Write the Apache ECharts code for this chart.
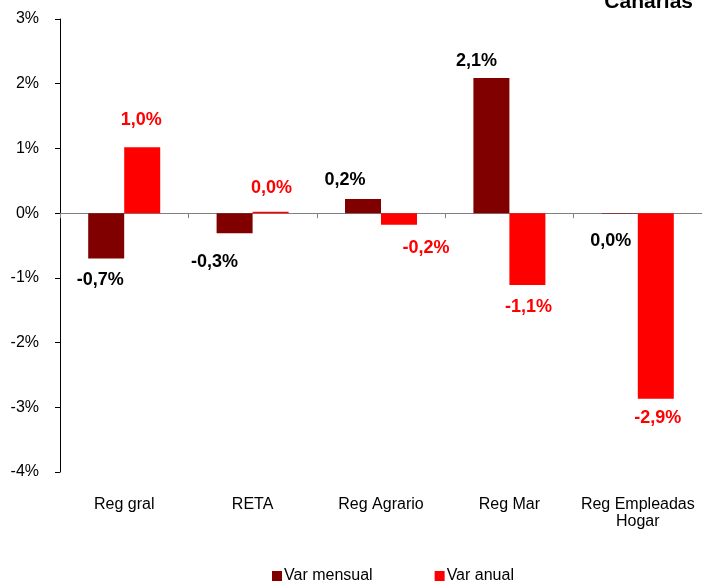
<!DOCTYPE html>
<html>
<head>
<meta charset="utf-8">
<script src="https://cdn.jsdelivr.net/npm/echarts@6/dist/echarts.min.js"></script>
<style>
  html, body { margin: 0; padding: 0; background: #fff; }
  #chart { width: 702px; height: 585px; }
</style>
</head>
<body>
<div id="chart"></div>
<script>
// categories and values
const categories = ['Reg gral', 'RETA', 'Reg Agrario', 'Reg Mar', 'Reg Empleadas\nHogar'];
const varMensual = [-0.7, -0.31, 0.22, 2.09, -0.01];
const varAnual = [1.02, 0.02, -0.18, -1.11, -2.87];
const yTicks = [-4, -3, -2, -1, 0, 1, 2, 3];

// label nudges (Excel places some labels off-centre)
const mensualLabelShift = [[-6, 0], [-20, 7], [-18, 3], [-15, 5], [-9, 5]];
const anualLabelShift = [[-1, -5], [1, -2], [27, 1], [1, 0], [2, -3]];

const font = '"Liberation Sans", Arial, sans-serif';

// format like 1,0% and avoid "-0,0%"
const fmt = (v) => {
  let s = v.toFixed(1);
  if (s === '-0.0') s = '0.0';
  return s.replace('.', ',') + '%';
};

const chart = echarts.init(document.getElementById('chart'));

const makeSeries = (name, values, shifts, color, textColor) => ({
  name: name,
  type: 'bar',
  barWidth: 36,
  barGap: '0%',
  itemStyle: { color: color },
  data: values.map((v, i) => ({
    value: v,
    label: { position: v < 0 ? 'bottom' : 'top', offset: shifts[i] }
  })),
  label: {
    show: true,
    distance: 13,
    color: textColor,
    fontFamily: font,
    fontWeight: 'bold',
    fontSize: 18,
    formatter: (p) => fmt(p.value)
  }
});

chart.setOption({
  animation: false,
  title: {
    text: 'Canarias',
    right: 4,
    top: -13,
    textStyle: { fontFamily: font, fontWeight: 'bold', fontSize: 21, color: '#000' }
  },
  legend: {
    bottom: -4,
    left: 267,
    itemGap: 62,
    itemWidth: 10,
    itemHeight: 10,
    icon: 'rect',
    textStyle: { fontFamily: font, fontSize: 16, color: '#000', padding: [0, 0, 0, -3] },
    data: ['Var mensual', 'Var anual']
  },
  grid: { left: 60, top: 19, width: 645, bottom: 113 },
  xAxis: [
    {
      type: 'category',
      data: categories,
      position: 'bottom',
      axisLine: { show: false, onZero: false },
      axisTick: { show: false },
      axisLabel: { interval: 0, fontFamily: font, fontSize: 16, color: '#000', margin: 24, lineHeight: 17 }
    },
    {
      type: 'category',
      data: categories,
      position: 'bottom',
      axisLine: { show: true, onZero: true, lineStyle: { color: '#808080', width: 1 } },
      axisTick: { show: true, length: 5, lineStyle: { color: '#808080' } },
      axisLabel: { show: false }
    }
  ],
  yAxis: {
    type: 'value',
    min: yTicks[0],
    max: yTicks[yTicks.length - 1],
    interval: 1,
    splitLine: { show: false },
    axisLine: { show: true, lineStyle: { color: '#000', width: 1 } },
    axisTick: { show: true, length: 5, lineStyle: { color: '#000' } },
    axisLabel: { fontFamily: font, fontSize: 16, color: '#000', margin: 21, formatter: (v) => v + '%' }
  },
  series: [
    makeSeries('Var mensual', varMensual, mensualLabelShift, '#800000', '#000'),
    makeSeries('Var anual', varAnual, anualLabelShift, '#ff0000', '#ff0000')
  ]
});
</script>
</body>
</html>
